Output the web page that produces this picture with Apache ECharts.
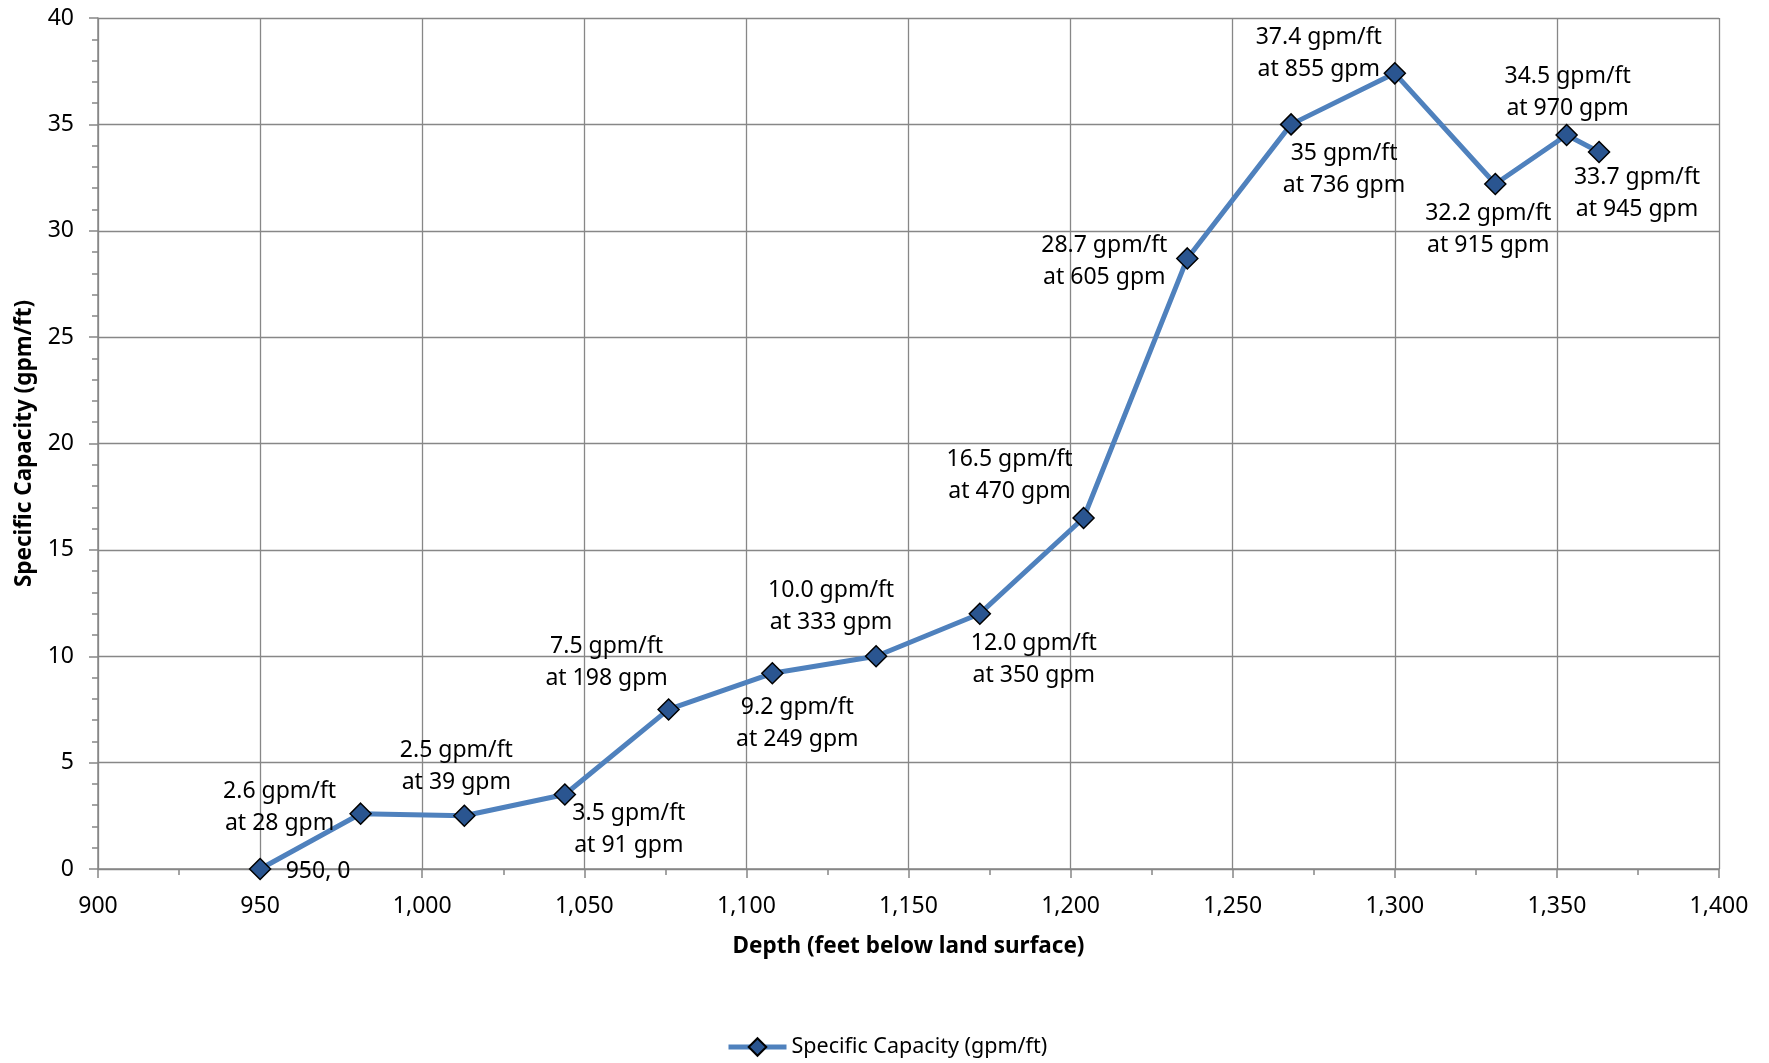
<!DOCTYPE html>
<html>
<head>
<meta charset="utf-8">
<script src="https://cdn.jsdelivr.net/npm/echarts@6/dist/echarts.min.js"></script>
<style>
html,body{margin:0;padding:0;background:#fff;}
#chart{width:1769px;height:1063px;}
</style>
</head>
<body>
<div id="chart"></div>
<script>
// ---- data ----
const depths = [950, 981, 1013, 1044, 1076, 1108, 1140, 1172, 1204, 1236, 1268, 1300, 1331, 1353, 1363];
const capacity = [0, 2.6, 2.5, 3.5, 7.5, 9.2, 10.0, 12.0, 16.5, 28.7, 35, 37.4, 32.2, 34.5, 33.7];
const capacityText = [null, '2.6', '2.5', '3.5', '7.5', '9.2', '10.0', '12.0', '16.5', '28.7', '35', '37.4', '32.2', '34.5', '33.7'];
const pumpRate = [null, 28, 39, 91, 198, 249, 333, 350, 470, 605, 736, 855, 915, 970, 945];
const seriesName = 'Specific Capacity (gpm/ft)';
const xTitle = 'Depth (feet below land surface)';
const yTitle = 'Specific Capacity (gpm/ft)';

// label offsets (px, label centre relative to marker)
const labelOffsets = [[58, 2], [-81, -6], [-8, -49], [64, 35], [-62, -47], [25, 50], [-45, -50], [54, 46],
  [-74, -43], [-83, 3], [53, 45], [-76, -20], [-7, 46], [1, -43], [38, 41]];

const FONT = '"Noto Sans", sans-serif';

const seriesData = depths.map((d, i) => ({
  value: [d, capacity[i]],
  label: {
    show: true,
    position: 'inside',
    align: 'center',
    verticalAlign: 'middle',
    offset: labelOffsets[i],
    formatter: i === 0 ? (d + ', ' + capacity[i]) : (capacityText[i] + ' gpm/ft\nat ' + pumpRate[i] + ' gpm'),
    color: '#000',
    fontFamily: FONT,
    fontSize: 23,
    lineHeight: 32
  }
}));

const chart = echarts.init(document.getElementById('chart'), null, {renderer: 'canvas'});
const gridColor = '#878787';
chart.setOption({
  animation: false,
  backgroundColor: '#fff',
  grid: {left: 98, top: 18, right: 50, bottom: 194, containLabel: false},
  xAxis: {
    type: 'value', min: 900, max: 1400, interval: 50,
    name: xTitle, nameLocation: 'middle', nameGap: 66,
    nameTextStyle: {fontFamily: FONT, fontSize: 22.5, fontWeight: 'bold', color: '#000'},
    axisLine: {show: true, onZero: false, lineStyle: {color: gridColor, width: 1.5}},
    axisTick: {show: true, length: 9, lineStyle: {color: gridColor, width: 1.5}},
    minorTick: {show: true, splitNumber: 2, length: 6, lineStyle: {color: gridColor, width: 1.5}},
    splitLine: {show: true, lineStyle: {color: gridColor, width: 1.3}},
    axisLabel: {margin: 26, fontFamily: FONT, fontSize: 23, color: '#000',
      formatter: v => v.toLocaleString('en-US')}
  },
  yAxis: {
    type: 'value', min: 0, max: 40, interval: 5,
    name: yTitle, nameLocation: 'middle', nameGap: 62, nameRotate: 90,
    nameTextStyle: {fontFamily: FONT, fontSize: 22.5, fontWeight: 'bold', color: '#000'},
    axisLine: {show: true, lineStyle: {color: gridColor, width: 1.5}},
    axisTick: {show: true, length: 9, lineStyle: {color: gridColor, width: 1.5}},
    minorTick: {show: true, splitNumber: 5, length: 6, lineStyle: {color: gridColor, width: 1.5}},
    splitLine: {show: true, lineStyle: {color: gridColor, width: 1.3}},
    axisLabel: {margin: 24, fontFamily: FONT, fontSize: 23, color: '#000'}
  },
  legend: {
    left: 721, top: 1031,
    itemWidth: 58, itemHeight: 22, itemGap: 5,
    lineStyle: {width: 5},
    textStyle: {fontFamily: FONT, fontSize: 21.5, color: '#000'},
    data: [seriesName]
  },
  series: [{
    name: seriesName,
    type: 'line',
    data: seriesData,
    symbol: 'diamond',
    symbolSize: 21,
    showAllSymbol: true,
    lineStyle: {color: '#4F81BD', width: 5},
    itemStyle: {color: '#2A5590', borderColor: '#000', borderWidth: 1.5},
    emphasis: {disabled: true},
    z: 3
  }]
});
</script>
</body>
</html>
